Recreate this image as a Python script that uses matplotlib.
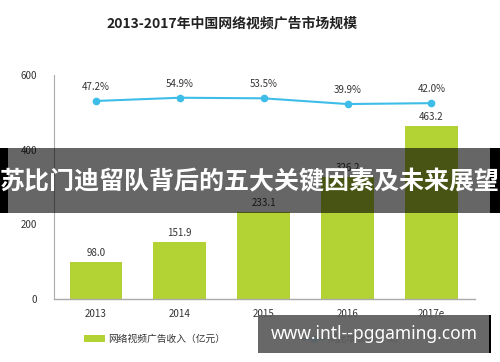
import matplotlib
matplotlib.use("Agg")
import matplotlib.pyplot as plt
from matplotlib.patches import Rectangle, Patch
from matplotlib.lines import Line2D

plt.rcParams['font.family'] = ['Noto Sans CJK SC', 'DejaVu Sans']

years = ["2013", "2014", "2015", "2016", "2017e"]
revenue = [98.0, 151.9, 233.1, 326.2, 463.2]
growth = [47.2, 54.9, 53.5, 39.9, 42.0]
yticks = [0, 200, 400, 600]
title = "2013-2017年中国网络视频广告市场规模"
legend_labels = ["网络视频广告收入（亿元）", "同比增长率（%）"]
banner = "苏比门迪留队背后的五大关键因素及未来展望"
watermark = "www.intl--pggaming.com"

bar_color = "#b3d234"
line_color = "#3dbde8"
txt = "#333333"

W, H = 500, 362
fig = plt.figure(figsize=(5, 3.62), dpi=100)
ax = fig.add_axes([54 / W, 1 - 299 / H, (475 - 54) / W, (299 - 75) / H])
x = list(range(len(years)))
ax.bar(x, revenue, width=0.63, color=bar_color, zorder=2)
for xi, v in zip(x, revenue):
    ax.annotate(f"{v:.1f}", (xi, v), xytext=(0, 6.5), textcoords="offset points",
                ha="center", va="center", fontsize=7, color=txt)
ax.set_xlim(-0.5, 4.52)
ax.set_ylim(0, 600)
ax.set_yticks(yticks)
ax.set_yticklabels([str(t) for t in yticks], fontsize=7, color=txt)
ax.set_xticks(x)
ax.set_xticklabels(years, fontsize=7, color=txt)
ax.tick_params(axis="both", length=0)
ax.tick_params(axis="y", pad=12)
ax.tick_params(axis="x", pad=7)
for s in ["top", "right"]:
    ax.spines[s].set_visible(False)
ax.spines["left"].set_color("#aaaaaa")
ax.spines["bottom"].set_color("#aaaaaa")
ax.spines["left"].set_linewidth(0.8)
ax.spines["bottom"].set_linewidth(1.0)

ax2 = ax.twinx()
gv = [g / 100 for g in growth]
ax2.plot(x, gv, color=line_color, lw=1.5, marker="o", ms=4.5, zorder=3)
for xi, g, v in zip(x, growth, gv):
    ax2.annotate(f"{g:.1f}%", (xi, v), xytext=(0, 10), textcoords="offset points",
                 ha="center", va="center", fontsize=7, color=txt)
ax2.set_ylim(-4.24, 1.09)
ax2.axis("off")

fig.text(232 / W, 1 - 23 / H, title, ha="center", va="center", fontsize=10,
         fontweight="bold", color="#222222")

handles = [Patch(facecolor=bar_color, edgecolor="none"),
           Line2D([0], [0], color=line_color, lw=1.5, marker="o", ms=4)]
fig.legend(handles, legend_labels, loc="center", bbox_to_anchor=(244 / W, 1 - 339 / H),
           ncol=2, frameon=False, fontsize=7, columnspacing=8, handlelength=2.2,
           handletextpad=0.3, labelcolor=txt)

# overlay banner
fig.patches.append(Rectangle((8 / W, 1 - 213 / H), (490 - 8) / W, 65 / H,
                             transform=fig.transFigure, facecolor="black", alpha=0.6,
                             edgecolor="none", zorder=10))
fig.patches.append(Rectangle((0, 1 - 213 / H), 8 / W, 65 / H, transform=fig.transFigure,
                             facecolor="black", edgecolor="none", zorder=10))
fig.patches.append(Rectangle((490 / W, 1 - 213 / H), 10 / W, 65 / H, transform=fig.transFigure,
                             facecolor="black", edgecolor="none", zorder=10))
fig.text(0.5, 1 - 182 / H, banner, ha="center", va="center", fontsize=18,
         fontweight="bold", color="white", zorder=11)

# watermark box
fig.patches.append(Rectangle((258 / W, 1 - 353 / H), (490 - 258) / W, 38 / H,
                             transform=fig.transFigure, facecolor="#5c5c5c", alpha=0.93,
                             edgecolor="none", zorder=10))
fig.patches.append(Rectangle((489 / W, 1 - 353 / H), 1.5 / W, 38 / H,
                             transform=fig.transFigure, facecolor="black",
                             edgecolor="none", zorder=10))
fig.text(374 / W, 1 - 334 / H, watermark, ha="center", va="center", fontsize=12.5,
         fontweight="bold", color="white", family=["Noto Sans", "DejaVu Sans"], zorder=11)

fig.savefig("out.png", dpi=100)
